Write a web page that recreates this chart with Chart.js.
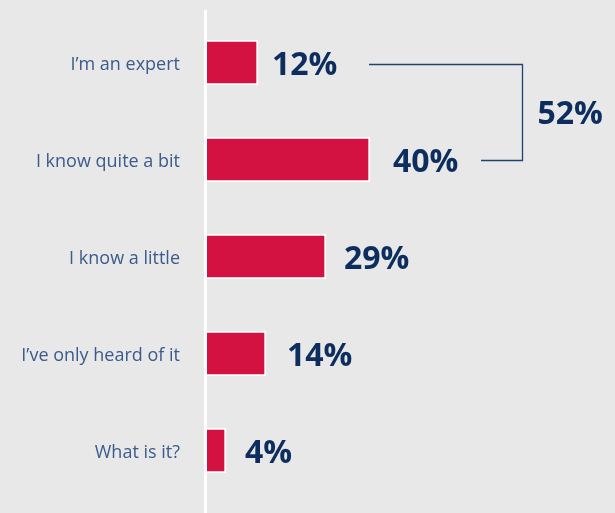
<!DOCTYPE html>
<html>
<head>
<meta charset="utf-8">
<script src="https://cdn.jsdelivr.net/npm/chart.js@4/dist/chart.umd.min.js"></script>
<style>
html,body{margin:0;padding:0;background:#e8e8e8;}
canvas{display:block;}
</style>
</head>
<body>
<canvas id="chartKnow" width="615" height="513"></canvas>
<script>
// data
const categories=['I\u2019m an expert','I know quite a bit','I know a little','I\u2019ve only heard of it','What is it?'];
const shares=[12,40,29,14,4];
const bracketIdx=[0,1]; // grouped into the total on the right

const navy='#0c2d5e';
const labelBlue='#3a5b8c';
const barRed='#d31241';
const labelGap=[14,23,18,21,19]; // px between bar end and its % label

// white axis line, running past the plot area
const axisLine={
  id:'axisLine',
  afterDatasetsDraw(chart){
    const {ctx,chartArea}=chart;
    ctx.save();
    ctx.strokeStyle='#ffffff';
    ctx.lineWidth=3;
    ctx.beginPath();
    ctx.moveTo(chartArea.left-0.5,10);
    ctx.lineTo(chartArea.left-0.5,chart.height);
    ctx.stroke();
    ctx.restore();
  }
};

// % labels + bracket total
const valueLabels={
  id:'valueLabels',
  afterDatasetsDraw(chart){
    const {ctx}=chart;
    const meta=chart.getDatasetMeta(0);
    const xs=chart.scales.x;
    ctx.save();
    ctx.font="bold 32px 'Open Sans',sans-serif";
    ctx.fillStyle=navy;
    ctx.textAlign='left';
    ctx.textBaseline='middle';
    meta.data.forEach((bar,i)=>{
      ctx.fillText(shares[i]+'%',bar.x+labelGap[i],bar.y+3);
    });
    // bracket
    const yTop=Math.round(meta.data[bracketIdx[0]].y)+1.5;
    const yBot=Math.round(meta.data[bracketIdx[1]].y)+0.5;
    const vx=Math.round(xs.getPixelForValue(78))+0.5;
    ctx.strokeStyle='#1f4173';
    ctx.lineWidth=1.3;
    ctx.beginPath();
    ctx.moveTo(xs.getPixelForValue(39.75),yTop);
    ctx.lineTo(vx,yTop);
    ctx.lineTo(vx,yBot);
    ctx.lineTo(xs.getPixelForValue(67.75),yBot);
    ctx.stroke();
    const total=bracketIdx.reduce((s,i)=>s+shares[i],0);
    ctx.fillText(total+'%',vx+15,(yTop+yBot)/2+2);
    ctx.restore();
  }
};

new Chart(document.getElementById('chartKnow'),{
  type:'bar',
  data:{
    labels:categories,
    datasets:[{
      data:shares,
      base:-1,
      backgroundColor:barRed,
      borderColor:'#ffffff',
      borderWidth:2,
      barThickness:45
    }]
  },
  options:{
    indexAxis:'y',
    responsive:false,
    animation:false,
    layout:{padding:{top:14,bottom:14,left:0,right:0}},
    plugins:{legend:{display:false},tooltip:{enabled:false}},
    scales:{
      x:{display:false,min:-1,max:101.25},
      y:{
        grid:{display:false,drawTicks:false},
        border:{display:false},
        ticks:{padding:26,labelOffset:2,color:labelBlue,font:{family:"'Open Sans',sans-serif",size:18}},
        afterFit:s=>{s.width=206;s.paddingTop=0;s.paddingBottom=0;}
      }
    }
  },
  plugins:[axisLine,valueLabels]
});
</script>
</body>
</html>
